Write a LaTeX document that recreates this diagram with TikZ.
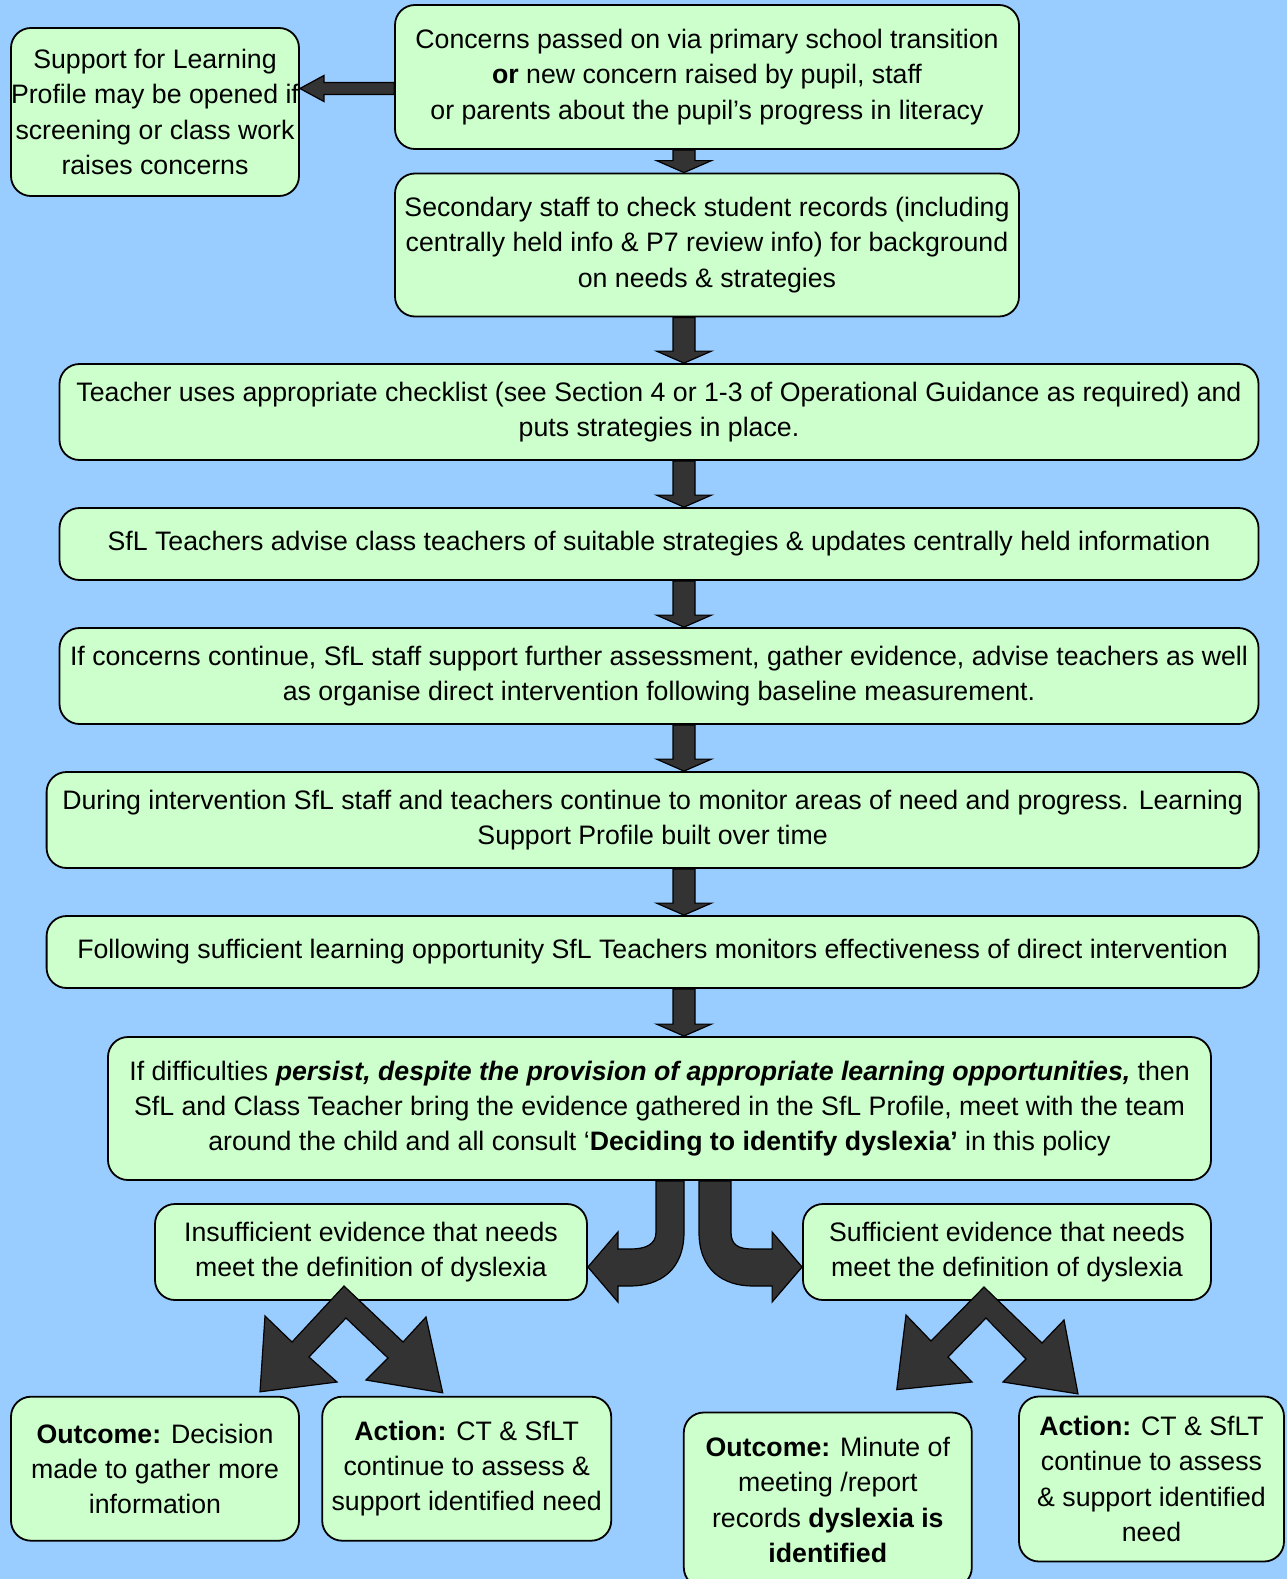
\documentclass[tikz,border=0pt]{standalone}
\usepackage{fontspec}
\setmainfont{Liberation Sans}
\usepackage{tikz}
\usetikzlibrary{calc}
\definecolor{skyback}{RGB}{153,204,255}
\definecolor{boxgreen}{RGB}{204,255,204}
\definecolor{arrowgrey}{RGB}{51,51,51}

\begin{document}
\begin{tikzpicture}
        [x=1pt,y=-1pt,
         box/.style={draw,fill=boxgreen,rounded corners=20pt,line width=1.8pt,align=center,inner sep=0pt,
                     font=\fontsize{26.7}{35.2}\selectfont},
         blockarrow/.style={fill=arrowgrey,draw=black,line width=1.2pt,line join=miter}]
        \fill[skyback] (0,0) rectangle (1287,1579);
        \useasboundingbox (0,0) rectangle (1287,1579);

        \node[box,minimum width=624pt,minimum height=144pt] (concern) at (707,77)
            {Concerns passed on via primary school transition\\ \textbf{or} new concern raised by pupil, staff\\ or parents about the pupil’s progress in literacy};
        \node[box,minimum width=288pt,minimum height=168pt] (profile) at (155,112)
            {Support for Learning\\ Profile may be opened if\\ screening or class work\\ raises concerns};
        \node[box,minimum width=624pt,minimum height=143pt] (records) at (707,245)
            {Secondary staff to check student records (including\\ centrally held info \& P7 review info) for background\\ on needs \& strategies};
        \node[box,minimum width=1199pt,minimum height=96pt] (checklist) at (659,412)
            {Teacher uses appropriate checklist (see Section 4 or 1-3 of Operational Guidance as required) and\\ puts strategies in place.};
        \node[box,minimum width=1199pt,minimum height=72pt] (advise) at (659,544)
            {SfL Teachers advise class teachers of suitable strategies \& updates centrally held information};
        \node[box,minimum width=1199pt,minimum height=96pt] (further) at (659,676)
            {If concerns continue, SfL staff support further assessment, gather evidence, advise teachers as well\\ as organise direct intervention following baseline measurement.};
        \node[box,minimum width=1212pt,minimum height=96pt] (monitor) at (652.6,820)
            {During intervention SfL staff and teachers continue to monitor areas of need and progress. Learning\\ Support Profile built over time};
        \node[box,minimum width=1212pt,minimum height=72pt] (effect) at (652.6,952)
            {Following sufficient learning opportunity SfL Teachers monitors effectiveness of direct intervention};
        \node[box,minimum width=1103pt,minimum height=143pt] (persist) at (659.5,1108.5)
            {If difficulties \textbf{\textit{persist, despite the provision of appropriate learning opportunities,}} then\\ SfL and Class Teacher bring the evidence gathered in the SfL Profile, meet with the team\\ around the child and all consult ‘\textbf{Deciding to identify dyslexia’} in this policy};
        \node[box,minimum width=432pt,minimum height=96pt] (insuf) at (371,1252)
            {Insufficient evidence that needs\\ meet the definition of dyslexia};
        \node[box,minimum width=408pt,minimum height=96pt] (suf) at (1007,1252)
            {Sufficient evidence that needs\\ meet the definition of dyslexia};
        \node[box,minimum width=288pt,minimum height=144pt] (outL) at (155,1468.7)
            {\textbf{Outcome:} Decision\\ made to gather more\\ information};
        \node[box,minimum width=289pt,minimum height=144pt] (actL) at (466.7,1468.7)
            {\textbf{Action:} CT \& SfLT\\ continue to assess \&\\ support identified need};
        \node[box,minimum width=288pt,minimum height=175pt] (outR) at (827.8,1500)
            {\textbf{Outcome:} Minute of\\ meeting /report\\ records \textbf{dyslexia is}\\ \textbf{identified}};
        \node[box,minimum width=265pt,minimum height=165pt] (actR) at (1151.5,1479)
            {\textbf{Action:} CT \& SfLT\\ continue to assess\\ \& support identified\\ need};

        % straight block arrows down the middle
        \foreach \a/\b in {concern/records,records/checklist,checklist/advise,advise/further,
                           further/monitor,monitor/effect,effect/persist}
            \filldraw[blockarrow] let \p1=(\a.south), \p2=(\b.north) in
                (673pt,\y1) -- (695pt,\y1) -- (695pt,\y2+12pt) -- (711.5pt,\y2+12pt) -- (684pt,\y2)
                -- (656.5pt,\y2+12pt) -- (673pt,\y2+12pt) -- cycle;

        % side arrow to the profile box
        \filldraw[blockarrow] let \p1=(concern.west), \p2=(profile.east) in
            (\x1,\y1-5.5pt) -- (\x2+24pt,\y1-5.5pt) -- (\x2+24pt,\y1+1.5pt) -- (\x2,\y1-11.5pt)
            -- (\x2+24pt,\y1-24.5pt) -- (\x2+24pt,\y1-17.5pt) -- (\x1,\y1-17.5pt) -- cycle;

        % bent arrows out of the decision box
        \filldraw[blockarrow] let \p1=(persist.south), \p2=(insuf.east) in
            (684pt,\y1) -- (684pt,-1232pt) .. controls (684pt,-1270pt) and (660pt,-1286pt) .. (630pt,-1286pt)
            -- (\x2+30pt,-1286pt) -- (\x2+30pt,-1302pt) -- (\x2,-1267pt) -- (\x2+30pt,-1232pt)
            -- (\x2+30pt,-1249pt) -- (630pt,-1249pt) .. controls (645pt,-1249pt) and (656pt,-1245pt) .. (656pt,-1232pt)
            -- (656pt,\y1) -- cycle;
        \filldraw[blockarrow] let \p1=(persist.south), \p2=(suf.west) in
            (699pt,\y1) -- (699pt,-1232pt) .. controls (699pt,-1270pt) and (723pt,-1286pt) .. (753pt,-1286pt)
            -- (\x2-30pt,-1286pt) -- (\x2-30pt,-1302pt) -- (\x2,-1267pt) -- (\x2-30pt,-1232pt)
            -- (\x2-30pt,-1249pt) -- (753pt,-1249pt) .. controls (738pt,-1249pt) and (731pt,-1245pt) .. (731pt,-1232pt)
            -- (731pt,\y1) -- cycle;

        % forked arrows to outcome and action
        \filldraw[blockarrow] let \p1=(outL.north), \p2=(actL.north) in
            (344pt,-1286pt) -- (403pt,-1342pt) -- (426pt,-1317pt) -- (\x2-24pt,\y2+3pt) -- (366pt,-1380pt)
            -- (388pt,-1358pt) -- (346pt,-1318pt) -- (309pt,-1357pt) -- (337pt,-1382pt)
            -- (\x1+105pt,\y1+4pt) -- (265pt,-1316pt) -- (292pt,-1342pt) -- cycle;
        \filldraw[blockarrow] let \p1=(outR.north), \p2=(actR.north) in
            (984pt,-1287pt) -- (1042pt,-1343pt) -- (1064pt,-1320pt) -- (\x2-73.5pt,\y2+1.7pt) -- (1003pt,-1382pt)
            -- (1026pt,-1359pt) -- (986pt,-1318pt) -- (948pt,-1357pt) -- (972pt,-1382pt)
            -- (\x1+69pt,\y1+22pt) -- (906pt,-1315pt) -- (931pt,-1341pt) -- cycle;

    \end{tikzpicture}
\end{document}
